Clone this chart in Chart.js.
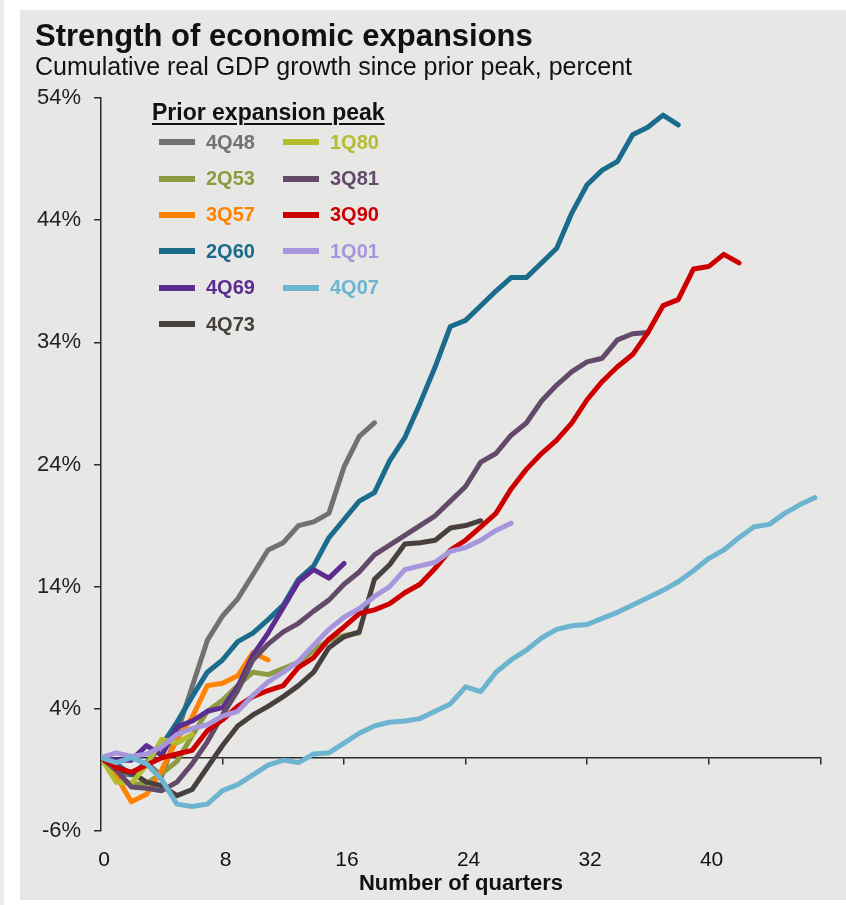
<!DOCTYPE html>
<html>
<head>
<meta charset="utf-8">
<script src="https://cdn.jsdelivr.net/npm/chart.js@4.4.1/dist/chart.umd.min.js"></script>
<style>
  html, body { margin: 0; padding: 0; background: #fff; }
  body { width: 846px; height: 905px; position: relative; overflow: hidden;
         font-family: "Liberation Sans", Arial, sans-serif; color: #111; }
  #edge { position: absolute; left: 0; top: 0; width: 4px; height: 905px; background: #ebebeb; }
  #panel { position: absolute; left: 20px; top: 10px; width: 826px; height: 890px; background: #e7e7e5; }
  #title { position: absolute; left: 35px; top: 20px; font-size: 31px; line-height: 31px; font-weight: bold; white-space: nowrap; }
  #subtitle { position: absolute; left: 35px; top: 54px; font-size: 25px; line-height: 25px; white-space: nowrap; }
  #wrap { position: absolute; left: 0; top: 0; width: 846px; height: 905px; }
  #legend-head { position: absolute; left: 152px; top: 101px; font-size: 23px; line-height: 23px; font-weight: bold;
                 text-decoration: underline; text-decoration-thickness: 2px; text-underline-offset: 3px; white-space: nowrap; }
  #legend { position: absolute; left: 159px; top: 124px; display: grid; grid-template-columns: 124px 124px;
            grid-template-rows: repeat(6, 36.4px); grid-auto-flow: column; }
  .item { display: flex; align-items: center; font-size: 20px; font-weight: bold; white-space: nowrap; }
  .sw { width: 36px; height: 6px; margin-right: 11px; }
</style>
</head>
<body>
<div id="edge"></div>
<div id="panel"></div>
<div id="wrap"><canvas id="chart" width="846" height="905"></canvas></div>
<div id="title">Strength of economic expansions</div>
<div id="subtitle">Cumulative real GDP growth since prior peak, percent</div>
<div id="legend-head">Prior expansion peak</div>
<div id="legend"></div>
<script>
// cumulative real GDP growth (%) by quarter since the prior peak
const gdp4Q48 = [0, -1.3, -1.4, -0.4, -1.5, 2.0, 5.8, 9.6, 11.6, 13.0, 15.0, 17.0, 17.6, 19.0, 19.3, 20.0, 23.8, 26.3, 27.4];
const gdp2Q53 = [0, -1.4, -2.2, -2.1, -1.3, -0.3, 1.8, 3.8, 4.7, 5.9, 7.0, 6.8, 7.3, 7.8, 8.8, 9.6, 10.0, 10.2];
const gdp3Q57 = [0, -1.5, -3.6, -3.0, -1.0, 1.5, 3.3, 5.9, 6.1, 6.7, 8.6, 8.0];
const gdp2Q60 = [0, -0.5, -1.4, -0.4, 1.0, 2.9, 5.0, 7.0, 8.0, 9.5, 10.2, 11.3, 12.5, 14.6, 15.7, 18.0, 19.5, 21.0, 21.7,
                 24.3, 26.2, 29.0, 32.0, 35.3, 35.8, 37.0, 38.2, 39.3, 39.3, 40.5, 41.7, 44.6, 46.9, 48.1, 48.8, 51.0, 51.6, 52.6, 51.8];
const gdp4Q69 = [0, -0.2, -0.2, 1.0, 0.2, 2.5, 3.0, 3.8, 4.1, 5.8, 8.4, 10.2, 12.3, 14.4, 15.4, 14.7, 15.9];
const gdp4Q73 = [0, -1.0, -1.2, -2.0, -2.3, -3.1, -2.6, -0.8, 1.0, 2.6, 3.5, 4.2, 5.0, 5.9, 7.0, 9.0, 9.9, 10.3,
                 14.6, 15.8, 17.5, 17.6, 17.8, 18.8, 19.0, 19.4];
const gdp1Q80 = [0, -2.0, -2.1, -0.6, 1.5, 1.2, 1.9];
const gdp3Q81 = [0, -1.0, -2.4, -2.5, -2.7, -2.0, -0.5, 1.3, 3.5, 5.5, 8.0, 9.3, 10.3, 11.0, 12.0, 12.9, 14.2, 15.2,
                 16.6, 17.4, 18.2, 19.0, 19.8, 21.0, 22.2, 24.2, 24.9, 26.4, 27.4, 29.2, 30.5, 31.6, 32.4, 32.7, 34.2, 34.7, 34.8];
const gdp3Q90 = [0, -0.8, -1.2, -0.6, 0.0, 0.3, 0.6, 2.2, 3.1, 4.2, 5.0, 5.5, 5.9, 7.4, 8.2, 9.7, 10.7, 11.8, 12.1,
                 12.6, 13.5, 14.2, 15.5, 17.0, 17.8, 18.9, 20.0, 22.0, 23.6, 24.9, 26.0, 27.4, 29.3, 30.8, 32.0, 33.0,
                 34.8, 37.0, 37.5, 40.0, 40.2, 41.2, 40.5];
const gdp1Q01 = [0, 0.4, 0.1, 0.3, 0.9, 1.9, 2.4, 2.7, 3.4, 3.8, 5.1, 6.2, 7.0, 7.9, 9.2, 10.5, 11.5, 12.2, 13.2,
                 14.0, 15.4, 15.7, 16.0, 16.9, 17.2, 17.8, 18.6, 19.2];
const gdp4Q07 = [0, -0.4, 0.0, -0.5, -1.8, -3.8, -4.0, -3.8, -2.7, -2.2, -1.4, -0.6, -0.2, -0.4, 0.3, 0.4, 1.2, 2.0,
                 2.6, 2.9, 3.0, 3.2, 3.8, 4.4, 5.8, 5.4, 7.0, 8.0, 8.8, 9.8, 10.5, 10.8, 10.9, 11.4, 11.9, 12.5, 13.1,
                 13.7, 14.4, 15.3, 16.3, 17.0, 18.0, 18.9, 19.1, 20.0, 20.7, 21.3];

const peaks = ['4Q48', '2Q53', '3Q57', '2Q60', '4Q69', '4Q73', '1Q80', '3Q81', '3Q90', '1Q01', '4Q07'];
const series = [gdp4Q48, gdp2Q53, gdp3Q57, gdp2Q60, gdp4Q69, gdp4Q73, gdp1Q80, gdp3Q81, gdp3Q90, gdp1Q01, gdp4Q07];
const colors = ['#717171', '#8c9a40', '#ff8200', '#1b6b8c', '#5c2d91', '#47403f',
                '#b4bc30', '#634a6a', '#cc0000', '#a796dc', '#6cb4d0'];

const yTickStep = 10;   // -6%, 4%, 14% ... 54%
const xTickStep = 8;    // 0, 8, 16 ... 40

// html legend
const legend = document.getElementById('legend');
peaks.forEach((p, i) => {
    const d = document.createElement('div');
    d.className = 'item';
    d.style.color = colors[i];
    d.innerHTML = '<span class="sw" style="background:' + colors[i] + '"></span>' + p;
    legend.appendChild(d);
});

const axisColor = '#2b2b2b';
const font = "'Liberation Sans', Arial, sans-serif";

const datasets = series.map((s, i) => ({
    label: peaks[i],
    data: s.map((v, q) => ({ x: q, y: v })),
    borderColor: colors[i],
    backgroundColor: colors[i],
    borderWidth: 5,
    pointRadius: 0,
    tension: 0,
    borderJoinStyle: 'round',
    borderCapStyle: 'round',
    order: -i
}));

new Chart(document.getElementById('chart'), {
    type: 'line',
    data: { datasets },
    options: {
        responsive: false,
        animation: false,
        layout: { padding: { top: 98, right: 25, left: 0, bottom: 0 } },
        plugins: { legend: { display: false }, tooltip: { enabled: false } },
        scales: {
            x: {
                type: 'linear', position: 'bottom', min: 0, max: 47.4,
                border: { display: false },
                grid: { display: false },
                ticks: {
                    stepSize: xTickStep, padding: 9, labelOffset: 3, color: '#111', font: { family: font, size: 21 },
                    maxRotation: 0,
                    callback: v => (v % xTickStep === 0 ? v : '')
                },
                title: {
                    display: true, text: 'Number of quarters', color: '#111',
                    font: { family: font, size: 22, weight: 'bold' }, padding: { top: 0, bottom: 8 }
                },
                afterFit: s => { s.height = 74; }
            },
            xz: {
                type: 'linear', position: { y: 0 }, min: 0, max: 47.4,
                border: { display: true, color: axisColor, width: 1.5 },
                grid: { drawOnChartArea: false, drawTicks: true, tickLength: 6, color: axisColor, lineWidth: 1.5 },
                ticks: { display: false, stepSize: xTickStep }
            },
            y: {
                min: -6, max: 54,
                border: { display: true, color: axisColor, width: 1.5 },
                grid: { drawOnChartArea: false, tickLength: 7, color: axisColor, lineWidth: 1.5 },
                ticks: {
                    stepSize: yTickStep, padding: 13, color: '#222', font: { family: font, size: 22 },
                    callback: v => v + '%'
                },
                afterFit: s => { s.width = 101; }
            }
        }
    }
});
</script>
</body>
</html>
